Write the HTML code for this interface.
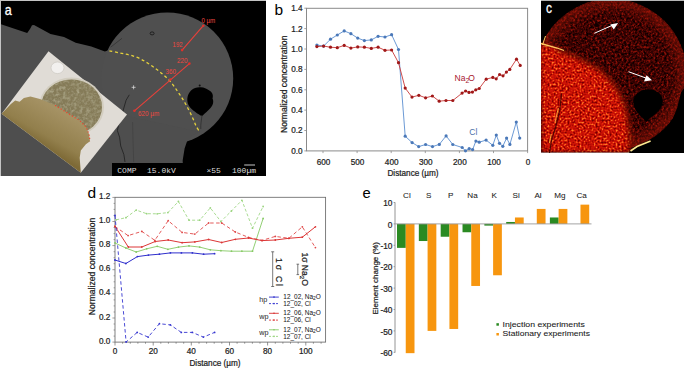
<!DOCTYPE html>
<html><head><meta charset="utf-8"><style>
html,body{margin:0;padding:0;background:#fff;width:685px;height:368px;overflow:hidden}
svg{display:block}
</style></head><body>
<svg width="685" height="368" viewBox="0 0 685 368">
<rect x="0" y="0" width="266" height="176" fill="#c4c4c4"/>
<rect x="1" y="1" width="265" height="175" fill="#000"/>
<path d="M1,24.3 L27.2,33 L30,29 L32,25.2 L34,24.9 L50.5,34 L64,36.9 L75.7,42.7 L91.3,46.6 L104.9,51.5 L112,49 L130,100 L160,150 L183,163 L183,176 L1,176 Z" fill="#4e4e4e"/>
<circle cx="167.2" cy="78.4" r="66" fill="#4f4f4f"/>
<path d="M100,110 L200,132 L192,135.6 L187.4,140.3 L184.6,148.5 L182.7,160.2 L182.7,176 L100,176 Z" fill="#4e4e4e"/>
<path d="M199.5,87.2 C204,86.8 206,88.5 208.5,90 C212,91.5 213.8,95 212.5,98.5 C213.8,101 213.5,105 210.5,108 C208,111 205,113 202.5,115.8 L200.5,115.5 C196,112.5 190,109 188,104 C186.5,99 187.5,94 191,90.5 C193.5,88.2 196.5,87.4 199.5,87.2 Z" fill="#000"/><circle cx="199.7" cy="85.6" r="1" fill="#111"/><path d="M202,115.5 C201.5,120 200.5,124 200.8,129" stroke="#222" stroke-width="0.6" fill="none"/>
<ellipse cx="152.1" cy="33.4" rx="2" ry="1.5" fill="none" stroke="#1a1a1a" stroke-width="0.9"/><path d="M110.6,47.2 L122,38.3" stroke="#2a2a2a" stroke-width="0.6"/>
<path d="M129.3,94.8 L126.1,100.2 L121.7,115.4 L118.5,125.2 L117.4,130.7 L119.6,137.2 L120.7,145.9 L123.9,154.6 L125,162" fill="none" stroke="#1e1e1e" stroke-width="0.8"/>
<path d="M132.6,122 L133,140 L133.7,162.2" fill="none" stroke="#3a3a3a" stroke-width="0.5"/>
<defs><linearGradient id="tan" gradientUnits="userSpaceOnUse" x1="50" y1="105" x2="30" y2="140"><stop offset="0" stop-color="#a59264"/><stop offset="0.7" stop-color="#927f4c"/><stop offset="1" stop-color="#7e6a36"/></linearGradient><filter id="gtex" x="0" y="0" width="1" height="1"><feTurbulence type="fractalNoise" baseFrequency="0.3" numOctaves="2" seed="4"/><feColorMatrix values="0 0 0 0 0.36  0 0 0 0 0.33  0 0 0 0 0.2  3.2 0 0 0 -1.45"/></filter><filter id="gtex2" x="0" y="0" width="1" height="1"><feTurbulence type="fractalNoise" baseFrequency="0.35" numOctaves="2" seed="21"/><feColorMatrix values="0 0 0 0 0.82  0 0 0 0 0.8  0 0 0 0 0.68  3.2 0 0 0 -1.5"/></filter><clipPath id="gcl"><ellipse cx="71.5" cy="107" rx="30.5" ry="27.5"/></clipPath></defs>
<polygon points="48.5,51.2 127,114.5 80.8,172.8 1.6,113.8" fill="#e0dcd6"/>
<ellipse cx="71.5" cy="107" rx="32.5" ry="29.5" fill="#d2cdbf"/>
<ellipse cx="71.5" cy="107" rx="30.5" ry="27.5" fill="#857b58"/>
<g clip-path="url(#gcl)"><rect x="40" y="78" width="66" height="62" filter="url(#gtex)" opacity="0.9"/><rect x="40" y="78" width="66" height="62" filter="url(#gtex2)" opacity="0.18"/></g>
<ellipse cx="57.5" cy="67.8" rx="6.5" ry="5.8" fill="#f2f0ee" stroke="#c8c4be" stroke-width="0.6"/>
<path d="M1.6,113.8 L10.9,104 L15.2,100.4 L19.6,101.8 L23.9,98 L30.4,96.4 L40,99.1 L55,105.2 L63.2,110.3 L71.5,115.5 L79.7,120.6 L85.9,126.8 L89,134 L90,141.2 L85.9,144.3 L80.8,150.5 L79.7,157.7 L80.8,172.8 Z" fill="url(#tan)"/>
<path d="M55,105.2 L63.2,110.3 L71.5,115.5 L79.7,120.6 L85.9,126.8 L89,134 L90,141.2" fill="none" stroke="#e84a30" stroke-width="1.2" stroke-dasharray="1.3,2"/>
<path d="M109.4,50.9 C110.7,51.1 114.6,51.9 117,52.4 C119.4,52.9 121.3,53.3 123.7,53.8 C126.1,54.3 128.5,54.6 131.2,55.4 C133.9,56.2 137.0,57.2 139.8,58.6 C142.7,60.0 145.5,61.7 148.3,63.5 C151.2,65.3 154.2,67.6 156.9,69.6 C159.6,71.6 161.9,73.5 164.3,75.7 C166.8,77.9 169.4,80.3 171.6,83 C173.8,85.7 175.9,88.9 177.7,91.6 C179.5,94.2 181.0,96.2 182.6,98.9 C184.2,101.6 185.9,104.4 187.5,107.5 C189.1,110.6 191.0,114.2 192.4,117.3 C193.8,120.3 194.8,123.3 196,125.8 C197.2,128.2 199.1,131.0 199.7,132" fill="none" stroke="#e6d23c" stroke-width="1.3" stroke-dasharray="3,2.6"/>
<line x1="203.3" y1="25.7" x2="182.1" y2="50.1" stroke="#e8403a" stroke-width="1.1"/>
<line x1="189.4" y1="63.6" x2="134.4" y2="110.8" stroke="#e8403a" stroke-width="1.1"/>
<circle cx="203.3" cy="25.7" r="1.3" fill="#e0302a"/>
<circle cx="182.1" cy="50.1" r="1.3" fill="#e0302a"/>
<circle cx="189.4" cy="63.6" r="1.3" fill="#e0302a"/>
<circle cx="170.3" cy="79.5" r="1.3" fill="#e0302a"/>
<circle cx="134.4" cy="110.8" r="1.3" fill="#e0302a"/>
<text x="201.4" y="22.6" textLength="13.9" lengthAdjust="spacingAndGlyphs" style="font-family:'Liberation Sans', sans-serif;fill:#f04840;font-size:7.4px">0 µm</text>
<text x="172.6" y="46.6" textLength="9.9" lengthAdjust="spacingAndGlyphs" style="font-family:'Liberation Sans', sans-serif;fill:#f04840;font-size:7.4px">192</text>
<text x="177" y="62.6" textLength="10.5" lengthAdjust="spacingAndGlyphs" style="font-family:'Liberation Sans', sans-serif;fill:#f04840;font-size:7.4px">220</text>
<text x="165.5" y="74" textLength="10.5" lengthAdjust="spacingAndGlyphs" style="font-family:'Liberation Sans', sans-serif;fill:#f04840;font-size:7.4px">360</text>
<text x="138" y="116" textLength="21.2" lengthAdjust="spacingAndGlyphs" style="font-family:'Liberation Sans', sans-serif;fill:#f04840;font-size:7.4px">620 µm</text>
<path d="M131.6,87.3 h4 M133.6,85.3 v4" stroke="#e8e8e8" stroke-width="0.7"/>
<rect x="112" y="163" width="154" height="13" fill="#000"/>
<text x="117.3" y="173" style="font-family:'Liberation Mono',monospace;fill:#ddd;font-size:8px">COMP</text>
<text x="147" y="173" style="font-family:'Liberation Mono',monospace;fill:#ddd;font-size:8px">15.0kV</text>
<text x="206.5" y="173" style="font-family:'Liberation Mono',monospace;fill:#ddd;font-size:8px">×55</text>
<text x="232" y="173" style="font-family:'Liberation Mono',monospace;fill:#ddd;font-size:8px">100µm</text>
<line x1="244.2" y1="165" x2="255" y2="165" stroke="#ddd" stroke-width="0.9"/>
<text transform="translate(4.8,14.6) scale(0.88,1)" style="font-family:'Liberation Sans', sans-serif;fill:#fff;stroke:#fff;stroke-width:0.3px;font-size:14.2px">a</text>
<rect x="306.5" y="8.3" width="221.10000000000002" height="142.6" fill="none" stroke="#8a8a8a" stroke-width="1"/>
<line x1="304.3" y1="150.9" x2="306.5" y2="150.9" stroke="#8a8a8a" stroke-width="0.8"/>
<text x="302.6" y="153.8" text-anchor="end" style="font-family:'Liberation Sans', sans-serif;fill:#222;stroke:#222;stroke-width:0.22px;font-size:8.2px">0.0</text>
<line x1="304.3" y1="130.5" x2="306.5" y2="130.5" stroke="#8a8a8a" stroke-width="0.8"/>
<text x="302.6" y="133.4" text-anchor="end" style="font-family:'Liberation Sans', sans-serif;fill:#222;stroke:#222;stroke-width:0.22px;font-size:8.2px">0.2</text>
<line x1="304.3" y1="110.1" x2="306.5" y2="110.1" stroke="#8a8a8a" stroke-width="0.8"/>
<text x="302.6" y="113.0" text-anchor="end" style="font-family:'Liberation Sans', sans-serif;fill:#222;stroke:#222;stroke-width:0.22px;font-size:8.2px">0.4</text>
<line x1="304.3" y1="89.8" x2="306.5" y2="89.8" stroke="#8a8a8a" stroke-width="0.8"/>
<text x="302.6" y="92.7" text-anchor="end" style="font-family:'Liberation Sans', sans-serif;fill:#222;stroke:#222;stroke-width:0.22px;font-size:8.2px">0.6</text>
<line x1="304.3" y1="69.4" x2="306.5" y2="69.4" stroke="#8a8a8a" stroke-width="0.8"/>
<text x="302.6" y="72.3" text-anchor="end" style="font-family:'Liberation Sans', sans-serif;fill:#222;stroke:#222;stroke-width:0.22px;font-size:8.2px">0.8</text>
<line x1="304.3" y1="49.0" x2="306.5" y2="49.0" stroke="#8a8a8a" stroke-width="0.8"/>
<text x="302.6" y="51.9" text-anchor="end" style="font-family:'Liberation Sans', sans-serif;fill:#222;stroke:#222;stroke-width:0.22px;font-size:8.2px">1.0</text>
<line x1="304.3" y1="28.6" x2="306.5" y2="28.6" stroke="#8a8a8a" stroke-width="0.8"/>
<text x="302.6" y="31.5" text-anchor="end" style="font-family:'Liberation Sans', sans-serif;fill:#222;stroke:#222;stroke-width:0.22px;font-size:8.2px">1.2</text>
<line x1="304.3" y1="8.2" x2="306.5" y2="8.2" stroke="#8a8a8a" stroke-width="0.8"/>
<text x="302.6" y="11.1" text-anchor="end" style="font-family:'Liberation Sans', sans-serif;fill:#222;stroke:#222;stroke-width:0.22px;font-size:8.2px">1.4</text>
<line x1="527.6" y1="150.9" x2="527.6" y2="153.1" stroke="#8a8a8a" stroke-width="0.8"/>
<text x="528.1" y="164.8" text-anchor="middle" style="font-family:'Liberation Sans', sans-serif;fill:#222;stroke:#222;stroke-width:0.22px;font-size:8.2px">0</text>
<line x1="493.5" y1="150.9" x2="493.5" y2="153.1" stroke="#8a8a8a" stroke-width="0.8"/>
<text x="494.0" y="164.8" text-anchor="middle" style="font-family:'Liberation Sans', sans-serif;fill:#222;stroke:#222;stroke-width:0.22px;font-size:8.2px">100</text>
<line x1="459.4" y1="150.9" x2="459.4" y2="153.1" stroke="#8a8a8a" stroke-width="0.8"/>
<text x="459.9" y="164.8" text-anchor="middle" style="font-family:'Liberation Sans', sans-serif;fill:#222;stroke:#222;stroke-width:0.22px;font-size:8.2px">200</text>
<line x1="425.3" y1="150.9" x2="425.3" y2="153.1" stroke="#8a8a8a" stroke-width="0.8"/>
<text x="425.8" y="164.8" text-anchor="middle" style="font-family:'Liberation Sans', sans-serif;fill:#222;stroke:#222;stroke-width:0.22px;font-size:8.2px">300</text>
<line x1="391.2" y1="150.9" x2="391.2" y2="153.1" stroke="#8a8a8a" stroke-width="0.8"/>
<text x="391.7" y="164.8" text-anchor="middle" style="font-family:'Liberation Sans', sans-serif;fill:#222;stroke:#222;stroke-width:0.22px;font-size:8.2px">400</text>
<line x1="357.1" y1="150.9" x2="357.1" y2="153.1" stroke="#8a8a8a" stroke-width="0.8"/>
<text x="357.6" y="164.8" text-anchor="middle" style="font-family:'Liberation Sans', sans-serif;fill:#222;stroke:#222;stroke-width:0.22px;font-size:8.2px">500</text>
<line x1="323.0" y1="150.9" x2="323.0" y2="153.1" stroke="#8a8a8a" stroke-width="0.8"/>
<text x="323.5" y="164.8" text-anchor="middle" style="font-family:'Liberation Sans', sans-serif;fill:#222;stroke:#222;stroke-width:0.22px;font-size:8.2px">600</text>
<text x="413" y="175.8" text-anchor="middle" style="font-family:'Liberation Sans', sans-serif;fill:#222;stroke:#222;stroke-width:0.22px;font-size:8.2px">Distance (µm)</text>
<text transform="translate(287.4,84.3) rotate(-90)" text-anchor="middle" style="font-family:'Liberation Sans', sans-serif;fill:#222;stroke:#222;stroke-width:0.22px;font-size:8.2px;font-size:8.6px">Normalized concentration</text>
<polyline points="316.9,45.0 323.6,46.1 330.5,39.2 337.3,35.0 344.2,30.9 350.9,33.7 357.7,38.1 364.4,40.6 371.3,39.9 378.1,36.3 385.0,37.0 391.6,34.7 398.5,49.5 405.2,136.2 412.1,142.6 418.7,146.6 425.6,144.5 432.5,146.6 439.3,144.4 446.1,135.9 452.8,144.5 462.2,147.5 465.5,150.8 469.2,148.6 472.6,149.6 475.9,141.1 479.2,142.2 486.1,140.1 492.8,145.3 496.3,135.1 499.5,143.3 502.8,146.3 506.6,138.1 509.9,144.4 516.3,122.1 519.7,138.1" fill="none" stroke="#5b8fd0" stroke-width="0.9"/>
<polyline points="316.9,46.6 323.6,46.1 330.5,47.2 337.3,47.7 344.2,45.4 350.9,48.1 357.7,46.9 364.4,47.2 371.3,48.4 378.1,47.2 385.0,50.3 391.6,50.0 398.5,62.7 405.2,88.1 412.0,97.1 418.8,95.3 425.6,97.8 432.4,96.0 439.2,101.2 446.0,100.5 452.8,100.5 462.1,93.1 465.6,91.0 469.0,92.4 472.4,92.1 475.8,89.8 479.2,88.5 486.2,79.2 492.8,77.4 496.2,78.8 499.6,74.5 503.0,75.8 506.4,72.1 509.8,69.4 516.5,59.2 520.2,65.4" fill="none" stroke="#c83838" stroke-width="0.9"/>
<circle cx="316.9" cy="45.0" r="1.6" fill="#4a78b8"/>
<circle cx="323.6" cy="46.1" r="1.6" fill="#4a78b8"/>
<circle cx="330.5" cy="39.2" r="1.6" fill="#4a78b8"/>
<circle cx="337.3" cy="35.0" r="1.6" fill="#4a78b8"/>
<circle cx="344.2" cy="30.9" r="1.6" fill="#4a78b8"/>
<circle cx="350.9" cy="33.7" r="1.6" fill="#4a78b8"/>
<circle cx="357.7" cy="38.1" r="1.6" fill="#4a78b8"/>
<circle cx="364.4" cy="40.6" r="1.6" fill="#4a78b8"/>
<circle cx="371.3" cy="39.9" r="1.6" fill="#4a78b8"/>
<circle cx="378.1" cy="36.3" r="1.6" fill="#4a78b8"/>
<circle cx="385" cy="37.0" r="1.6" fill="#4a78b8"/>
<circle cx="391.6" cy="34.7" r="1.6" fill="#4a78b8"/>
<circle cx="398.5" cy="49.5" r="1.6" fill="#4a78b8"/>
<circle cx="405.2" cy="136.2" r="1.6" fill="#4a78b8"/>
<circle cx="412.1" cy="142.6" r="1.6" fill="#4a78b8"/>
<circle cx="418.7" cy="146.6" r="1.6" fill="#4a78b8"/>
<circle cx="425.6" cy="144.5" r="1.6" fill="#4a78b8"/>
<circle cx="432.5" cy="146.6" r="1.6" fill="#4a78b8"/>
<circle cx="439.3" cy="144.4" r="1.6" fill="#4a78b8"/>
<circle cx="446.1" cy="135.9" r="1.6" fill="#4a78b8"/>
<circle cx="452.8" cy="144.5" r="1.6" fill="#4a78b8"/>
<circle cx="462.2" cy="147.5" r="1.6" fill="#4a78b8"/>
<circle cx="465.5" cy="150.8" r="1.6" fill="#4a78b8"/>
<circle cx="469.2" cy="148.6" r="1.6" fill="#4a78b8"/>
<circle cx="472.6" cy="149.6" r="1.6" fill="#4a78b8"/>
<circle cx="475.9" cy="141.1" r="1.6" fill="#4a78b8"/>
<circle cx="479.2" cy="142.2" r="1.6" fill="#4a78b8"/>
<circle cx="486.1" cy="140.1" r="1.6" fill="#4a78b8"/>
<circle cx="492.8" cy="145.3" r="1.6" fill="#4a78b8"/>
<circle cx="496.3" cy="135.1" r="1.6" fill="#4a78b8"/>
<circle cx="499.5" cy="143.3" r="1.6" fill="#4a78b8"/>
<circle cx="502.8" cy="146.3" r="1.6" fill="#4a78b8"/>
<circle cx="506.6" cy="138.1" r="1.6" fill="#4a78b8"/>
<circle cx="509.9" cy="144.4" r="1.6" fill="#4a78b8"/>
<circle cx="516.3" cy="122.1" r="1.6" fill="#4a78b8"/>
<circle cx="519.7" cy="138.1" r="1.6" fill="#4a78b8"/>
<circle cx="316.9" cy="46.6" r="1.6" fill="#a01818"/>
<circle cx="323.6" cy="46.1" r="1.6" fill="#a01818"/>
<circle cx="330.5" cy="47.2" r="1.6" fill="#a01818"/>
<circle cx="337.3" cy="47.7" r="1.6" fill="#a01818"/>
<circle cx="344.2" cy="45.4" r="1.6" fill="#a01818"/>
<circle cx="350.9" cy="48.1" r="1.6" fill="#a01818"/>
<circle cx="357.7" cy="46.9" r="1.6" fill="#a01818"/>
<circle cx="364.4" cy="47.2" r="1.6" fill="#a01818"/>
<circle cx="371.3" cy="48.4" r="1.6" fill="#a01818"/>
<circle cx="378.1" cy="47.2" r="1.6" fill="#a01818"/>
<circle cx="385" cy="50.3" r="1.6" fill="#a01818"/>
<circle cx="391.6" cy="50.0" r="1.6" fill="#a01818"/>
<circle cx="398.5" cy="62.7" r="1.6" fill="#a01818"/>
<circle cx="405.2" cy="88.1" r="1.6" fill="#a01818"/>
<circle cx="412" cy="97.1" r="1.6" fill="#a01818"/>
<circle cx="418.8" cy="95.3" r="1.6" fill="#a01818"/>
<circle cx="425.6" cy="97.8" r="1.6" fill="#a01818"/>
<circle cx="432.4" cy="96" r="1.6" fill="#a01818"/>
<circle cx="439.2" cy="101.2" r="1.6" fill="#a01818"/>
<circle cx="446" cy="100.5" r="1.6" fill="#a01818"/>
<circle cx="452.8" cy="100.5" r="1.6" fill="#a01818"/>
<circle cx="462.1" cy="93.1" r="1.6" fill="#a01818"/>
<circle cx="465.6" cy="91" r="1.6" fill="#a01818"/>
<circle cx="469" cy="92.4" r="1.6" fill="#a01818"/>
<circle cx="472.4" cy="92.1" r="1.6" fill="#a01818"/>
<circle cx="475.8" cy="89.8" r="1.6" fill="#a01818"/>
<circle cx="479.2" cy="88.5" r="1.6" fill="#a01818"/>
<circle cx="486.2" cy="79.2" r="1.6" fill="#a01818"/>
<circle cx="492.8" cy="77.4" r="1.6" fill="#a01818"/>
<circle cx="496.2" cy="78.8" r="1.6" fill="#a01818"/>
<circle cx="499.6" cy="74.5" r="1.6" fill="#a01818"/>
<circle cx="503" cy="75.8" r="1.6" fill="#a01818"/>
<circle cx="506.4" cy="72.1" r="1.6" fill="#a01818"/>
<circle cx="509.8" cy="69.4" r="1.6" fill="#a01818"/>
<circle cx="516.5" cy="59.2" r="1.6" fill="#a01818"/>
<circle cx="520.2" cy="65.4" r="1.6" fill="#a01818"/>
<text x="454.6" y="81.3" style="font-family:'Liberation Sans', sans-serif;fill:#a82030;font-size:8.5px">Na<tspan dy="2" font-size="7px">2</tspan><tspan dy="-2" dx="-1.2">O</tspan></text>
<text x="469.3" y="134.5" style="font-family:'Liberation Sans', sans-serif;fill:#4a6ea8;font-size:8.5px">Cl</text>
<text x="274.4" y="14.7" style="font-family:'Liberation Sans', sans-serif;fill:#000;font-size:15.5px">b</text>
<defs><clipPath id="cc"><rect x="541" y="1" width="143" height="151.5"/></clipPath><clipPath id="cd"><circle cx="611.1" cy="74.6" r="75.7"/></clipPath><filter id="bl2" x="-0.1" y="-0.1" width="1.2" height="1.2"><feGaussianBlur stdDeviation="2.3"/></filter><mask id="cb" maskUnits="userSpaceOnUse" x="530" y="0" width="160" height="160"><path d="M541,44 L557,47.8 L574.7,54.7 L589.3,62 L601.6,69.3 L611.3,79.1 L618.7,88.9 L624.8,101.1 L628.5,113.3 L630.5,127 L632,140 L631,149 L629,153 L541,153 Z" fill="#fff" filter="url(#bl2)"/></mask><filter id="tA" x="0" y="0" width="1" height="1" color-interpolation-filters="sRGB"><feTurbulence type="fractalNoise" baseFrequency="0.5" numOctaves="3" seed="5"/><feColorMatrix type="matrix" values="1 0 0 0 0  1 0 0 0 0  1 0 0 0 0  0 0 0 0 1"/><feComponentTransfer><feFuncR type="linear" slope="2.0" intercept="-0.5"/><feFuncG type="linear" slope="2.0" intercept="-0.5"/><feFuncB type="linear" slope="2.0" intercept="-0.5"/></feComponentTransfer><feComponentTransfer><feFuncR type="table" tableValues="0.45 0.63 0.75 0.84 0.93 1"/><feFuncG type="table" tableValues="0.0 0.02 0.05 0.1 0.25 0.5"/><feFuncB type="table" tableValues="0 0 0.02 0.03 0.06 0.15"/></feComponentTransfer></filter><filter id="tB" x="0" y="0" width="1" height="1" color-interpolation-filters="sRGB"><feTurbulence type="fractalNoise" baseFrequency="0.45" numOctaves="3" seed="9"/><feColorMatrix type="matrix" values="1 0 0 0 0  1 0 0 0 0  1 0 0 0 0  0 0 0 0 1"/><feComponentTransfer><feFuncR type="linear" slope="2.0" intercept="-0.5"/><feFuncG type="linear" slope="2.0" intercept="-0.5"/><feFuncB type="linear" slope="2.0" intercept="-0.5"/></feComponentTransfer><feComponentTransfer><feFuncR type="table" tableValues="0.03 0.12 0.2 0.28 0.4 0.56"/><feFuncG type="table" tableValues="0 0.0 0.01 0.02 0.04 0.07"/><feFuncB type="table" tableValues="0 0 0.01 0.01 0.02 0.03"/></feComponentTransfer></filter><radialGradient id="rim" gradientUnits="userSpaceOnUse" cx="611.1" cy="74.6" r="75.7"><stop offset="0.78" stop-color="#a01808" stop-opacity="0"/><stop offset="0.97" stop-color="#a01808" stop-opacity="0.45"/><stop offset="1" stop-color="#a01808" stop-opacity="0.3"/></radialGradient></defs>
<rect x="541" y="0" width="143" height="1" fill="#b4b4b4"/>
<rect x="541" y="1" width="143" height="151.5" fill="#000"/>
<g clip-path="url(#cc)">
<g clip-path="url(#cd)">
<rect x="541" y="1" width="143" height="152" filter="url(#tB)"/>
<rect x="541" y="1" width="143" height="152" fill="url(#rim)"/>
</g>
<g mask="url(#cb)"><rect x="541" y="1" width="143" height="152" filter="url(#tA)"/><path d="M557,47.8 L574.7,54.7 L589.3,62 L601.6,69.3 L611.3,79.1 L618.7,88.9 L624.8,101.1 L628.5,113.3 L630.5,127 L632,140 L631,149" fill="none" stroke="#5a0804" stroke-width="9" opacity="0.45" filter="url(#bl2)"/></g>
</g>
<path d="M648,89.2 C656,89.2 662.8,94 662.8,101 C662.8,108 656,114 650,118 L646.5,121.8 C643,118 633.2,111 633.2,102 C633.2,95 640,89.2 648,89.2 Z" fill="#000"/>
<circle cx="596.4" cy="25.1" r="2" fill="#100000"/>
<path d="M684,88 L681.1,92.2 L677,108.5 L671,122.8 L660.7,135 L648.5,142.1 L636.3,146.2 L630.2,151.3 L629,153 L684,153 Z" fill="#000"/>
<path d="M541,43.5 L557,48 L564,50.5" stroke="#ffc860" stroke-width="1.3" fill="none"/>
<path d="M542.5,45 L545.5,36" stroke="#ffc860" stroke-width="1" fill="none"/>
<path d="M630.5,151 L637,146.5 L650.6,141.1" stroke="#ffe890" stroke-width="1.6" fill="none"/>
<path d="M561.5,93.4 L559.8,110.5 L556.4,124.2 L551.3,141.3 L549.5,153" stroke="#3a0200" stroke-width="1.2" fill="none" opacity="0.85"/>
<path d="M558.3,108 L555,122.5 M551.2,134 L549.4,143" stroke="#ffc040" stroke-width="1" fill="none" opacity="0.85"/>
<line x1="594.3" y1="33.3" x2="613" y2="25" stroke="#fff" stroke-width="1"/>
<polygon points="618.1,23.1 610.3,24.6 613.8,29.6" fill="#fff"/>
<line x1="628.5" y1="71.7" x2="647.5" y2="78.6" stroke="#fff" stroke-width="1"/>
<polygon points="652,80.3 644,81.5 646.5,75.3" fill="#fff"/>
<text transform="translate(545.9,13.1) scale(0.84,1)" style="font-family:'Liberation Sans', sans-serif;fill:#fff;stroke:#fff;stroke-width:0.3px;font-size:14.2px">c</text>
<rect x="115" y="197.3" width="210.60000000000002" height="144.8" fill="none" stroke="#6a6a6a" stroke-width="0.85"/>
<line x1="112.4" y1="342.1" x2="115" y2="342.1" stroke="#777" stroke-width="0.7"/>
<text x="110.3" y="343.6" text-anchor="end" style="font-family:'Liberation Sans', sans-serif;fill:#222;stroke:#222;stroke-width:0.22px;font-size:8.2px">0.0</text>
<line x1="113.6" y1="336.1" x2="115" y2="336.1" stroke="#777" stroke-width="0.7"/>
<line x1="113.6" y1="330.0" x2="115" y2="330.0" stroke="#777" stroke-width="0.7"/>
<line x1="113.6" y1="324.0" x2="115" y2="324.0" stroke="#777" stroke-width="0.7"/>
<line x1="112.4" y1="318.0" x2="115" y2="318.0" stroke="#777" stroke-width="0.7"/>
<text x="110.3" y="319.5" text-anchor="end" style="font-family:'Liberation Sans', sans-serif;fill:#222;stroke:#222;stroke-width:0.22px;font-size:8.2px">0.2</text>
<line x1="113.6" y1="312.0" x2="115" y2="312.0" stroke="#777" stroke-width="0.7"/>
<line x1="113.6" y1="305.9" x2="115" y2="305.9" stroke="#777" stroke-width="0.7"/>
<line x1="113.6" y1="299.9" x2="115" y2="299.9" stroke="#777" stroke-width="0.7"/>
<line x1="112.4" y1="293.9" x2="115" y2="293.9" stroke="#777" stroke-width="0.7"/>
<text x="110.3" y="295.4" text-anchor="end" style="font-family:'Liberation Sans', sans-serif;fill:#222;stroke:#222;stroke-width:0.22px;font-size:8.2px">0.4</text>
<line x1="113.6" y1="287.8" x2="115" y2="287.8" stroke="#777" stroke-width="0.7"/>
<line x1="113.6" y1="281.8" x2="115" y2="281.8" stroke="#777" stroke-width="0.7"/>
<line x1="113.6" y1="275.8" x2="115" y2="275.8" stroke="#777" stroke-width="0.7"/>
<line x1="112.4" y1="269.7" x2="115" y2="269.7" stroke="#777" stroke-width="0.7"/>
<text x="110.3" y="271.2" text-anchor="end" style="font-family:'Liberation Sans', sans-serif;fill:#222;stroke:#222;stroke-width:0.22px;font-size:8.2px">0.6</text>
<line x1="113.6" y1="263.7" x2="115" y2="263.7" stroke="#777" stroke-width="0.7"/>
<line x1="113.6" y1="257.7" x2="115" y2="257.7" stroke="#777" stroke-width="0.7"/>
<line x1="113.6" y1="251.7" x2="115" y2="251.7" stroke="#777" stroke-width="0.7"/>
<line x1="112.4" y1="245.6" x2="115" y2="245.6" stroke="#777" stroke-width="0.7"/>
<text x="110.3" y="247.1" text-anchor="end" style="font-family:'Liberation Sans', sans-serif;fill:#222;stroke:#222;stroke-width:0.22px;font-size:8.2px">0.8</text>
<line x1="113.6" y1="239.6" x2="115" y2="239.6" stroke="#777" stroke-width="0.7"/>
<line x1="113.6" y1="233.6" x2="115" y2="233.6" stroke="#777" stroke-width="0.7"/>
<line x1="113.6" y1="227.5" x2="115" y2="227.5" stroke="#777" stroke-width="0.7"/>
<line x1="112.4" y1="221.5" x2="115" y2="221.5" stroke="#777" stroke-width="0.7"/>
<text x="110.3" y="223.0" text-anchor="end" style="font-family:'Liberation Sans', sans-serif;fill:#222;stroke:#222;stroke-width:0.22px;font-size:8.2px">1.0</text>
<line x1="113.6" y1="215.5" x2="115" y2="215.5" stroke="#777" stroke-width="0.7"/>
<line x1="113.6" y1="209.4" x2="115" y2="209.4" stroke="#777" stroke-width="0.7"/>
<line x1="113.6" y1="203.4" x2="115" y2="203.4" stroke="#777" stroke-width="0.7"/>
<line x1="112.4" y1="197.4" x2="115" y2="197.4" stroke="#777" stroke-width="0.7"/>
<text x="110.3" y="198.9" text-anchor="end" style="font-family:'Liberation Sans', sans-serif;fill:#222;stroke:#222;stroke-width:0.22px;font-size:8.2px">1.2</text>
<line x1="115.0" y1="342.1" x2="115.0" y2="345.5" stroke="#666" stroke-width="0.7"/>
<text x="115.0" y="354.3" text-anchor="middle" style="font-family:'Liberation Sans', sans-serif;fill:#222;stroke:#222;stroke-width:0.22px;font-size:8.2px">0</text>
<line x1="122.6" y1="342.1" x2="122.6" y2="343.70000000000005" stroke="#666" stroke-width="0.7"/>
<line x1="130.3" y1="342.1" x2="130.3" y2="343.70000000000005" stroke="#666" stroke-width="0.7"/>
<line x1="137.9" y1="342.1" x2="137.9" y2="343.70000000000005" stroke="#666" stroke-width="0.7"/>
<line x1="145.5" y1="342.1" x2="145.5" y2="343.70000000000005" stroke="#666" stroke-width="0.7"/>
<line x1="153.2" y1="342.1" x2="153.2" y2="345.5" stroke="#666" stroke-width="0.7"/>
<text x="153.2" y="354.3" text-anchor="middle" style="font-family:'Liberation Sans', sans-serif;fill:#222;stroke:#222;stroke-width:0.22px;font-size:8.2px">20</text>
<line x1="160.8" y1="342.1" x2="160.8" y2="343.70000000000005" stroke="#666" stroke-width="0.7"/>
<line x1="168.4" y1="342.1" x2="168.4" y2="343.70000000000005" stroke="#666" stroke-width="0.7"/>
<line x1="176.1" y1="342.1" x2="176.1" y2="343.70000000000005" stroke="#666" stroke-width="0.7"/>
<line x1="183.7" y1="342.1" x2="183.7" y2="343.70000000000005" stroke="#666" stroke-width="0.7"/>
<line x1="191.3" y1="342.1" x2="191.3" y2="345.5" stroke="#666" stroke-width="0.7"/>
<text x="191.3" y="354.3" text-anchor="middle" style="font-family:'Liberation Sans', sans-serif;fill:#222;stroke:#222;stroke-width:0.22px;font-size:8.2px">40</text>
<line x1="199.0" y1="342.1" x2="199.0" y2="343.70000000000005" stroke="#666" stroke-width="0.7"/>
<line x1="206.6" y1="342.1" x2="206.6" y2="343.70000000000005" stroke="#666" stroke-width="0.7"/>
<line x1="214.2" y1="342.1" x2="214.2" y2="343.70000000000005" stroke="#666" stroke-width="0.7"/>
<line x1="221.8" y1="342.1" x2="221.8" y2="343.70000000000005" stroke="#666" stroke-width="0.7"/>
<line x1="229.5" y1="342.1" x2="229.5" y2="345.5" stroke="#666" stroke-width="0.7"/>
<text x="229.5" y="354.3" text-anchor="middle" style="font-family:'Liberation Sans', sans-serif;fill:#222;stroke:#222;stroke-width:0.22px;font-size:8.2px">60</text>
<line x1="237.1" y1="342.1" x2="237.1" y2="343.70000000000005" stroke="#666" stroke-width="0.7"/>
<line x1="244.7" y1="342.1" x2="244.7" y2="343.70000000000005" stroke="#666" stroke-width="0.7"/>
<line x1="252.4" y1="342.1" x2="252.4" y2="343.70000000000005" stroke="#666" stroke-width="0.7"/>
<line x1="260.0" y1="342.1" x2="260.0" y2="343.70000000000005" stroke="#666" stroke-width="0.7"/>
<line x1="267.6" y1="342.1" x2="267.6" y2="345.5" stroke="#666" stroke-width="0.7"/>
<text x="267.6" y="354.3" text-anchor="middle" style="font-family:'Liberation Sans', sans-serif;fill:#222;stroke:#222;stroke-width:0.22px;font-size:8.2px">80</text>
<line x1="275.3" y1="342.1" x2="275.3" y2="343.70000000000005" stroke="#666" stroke-width="0.7"/>
<line x1="282.9" y1="342.1" x2="282.9" y2="343.70000000000005" stroke="#666" stroke-width="0.7"/>
<line x1="290.5" y1="342.1" x2="290.5" y2="343.70000000000005" stroke="#666" stroke-width="0.7"/>
<line x1="298.2" y1="342.1" x2="298.2" y2="343.70000000000005" stroke="#666" stroke-width="0.7"/>
<line x1="305.8" y1="342.1" x2="305.8" y2="345.5" stroke="#666" stroke-width="0.7"/>
<text x="305.8" y="354.3" text-anchor="middle" style="font-family:'Liberation Sans', sans-serif;fill:#222;stroke:#222;stroke-width:0.22px;font-size:8.2px">100</text>
<line x1="313.4" y1="342.1" x2="313.4" y2="343.70000000000005" stroke="#666" stroke-width="0.7"/>
<line x1="321.1" y1="342.1" x2="321.1" y2="343.70000000000005" stroke="#666" stroke-width="0.7"/>
<text x="215" y="365.8" text-anchor="middle" style="font-family:'Liberation Sans', sans-serif;fill:#222;stroke:#222;stroke-width:0.22px;font-size:8.2px">Distance (µm)</text>
<text transform="translate(95,266.5) rotate(-90)" text-anchor="middle" style="font-family:'Liberation Sans', sans-serif;fill:#222;stroke:#222;stroke-width:0.22px;font-size:8.2px;font-size:8.6px">Normalized concentration</text>
<polyline points="116.2,219.8 125.9,217.7 136.2,210.1 146.7,213.7 157.2,213.8 167.9,212.6 178.4,201.5 189.0,220.2 199.7,220.2 210.3,207.9 220.9,221.5 231.4,211.0 241.9,200.3 252.5,228.2 263.1,206.5" fill="none" stroke="#9ad47e" stroke-width="0.85" stroke-dasharray="3,2"/>
<circle cx="116.2" cy="219.8" r="0.9" fill="#9ad47e"/>
<circle cx="125.9" cy="217.7" r="0.9" fill="#9ad47e"/>
<circle cx="136.2" cy="210.1" r="0.9" fill="#9ad47e"/>
<circle cx="146.7" cy="213.7" r="0.9" fill="#9ad47e"/>
<circle cx="157.2" cy="213.8" r="0.9" fill="#9ad47e"/>
<circle cx="167.9" cy="212.6" r="0.9" fill="#9ad47e"/>
<circle cx="178.4" cy="201.5" r="0.9" fill="#9ad47e"/>
<circle cx="189" cy="220.2" r="0.9" fill="#9ad47e"/>
<circle cx="199.7" cy="220.2" r="0.9" fill="#9ad47e"/>
<circle cx="210.3" cy="207.9" r="0.9" fill="#9ad47e"/>
<circle cx="220.9" cy="221.5" r="0.9" fill="#9ad47e"/>
<circle cx="231.4" cy="211" r="0.9" fill="#9ad47e"/>
<circle cx="241.9" cy="200.3" r="0.9" fill="#9ad47e"/>
<circle cx="252.5" cy="228.2" r="0.9" fill="#9ad47e"/>
<circle cx="263.1" cy="206.5" r="0.9" fill="#9ad47e"/>
<polyline points="115.0,243.0 125.9,248.0 136.2,252.0 146.7,248.8 157.2,246.3 167.9,249.3 178.5,247.1 189.0,245.9 199.7,247.1 210.3,249.8 220.9,250.7 231.5,251.2 241.9,251.2 252.5,251.2 263.1,218.5" fill="none" stroke="#86c964" stroke-width="0.9"/>
<circle cx="115" cy="243" r="0.9" fill="#86c964"/>
<circle cx="125.9" cy="248" r="0.9" fill="#86c964"/>
<circle cx="136.2" cy="252" r="0.9" fill="#86c964"/>
<circle cx="146.7" cy="248.8" r="0.9" fill="#86c964"/>
<circle cx="157.2" cy="246.3" r="0.9" fill="#86c964"/>
<circle cx="167.9" cy="249.3" r="0.9" fill="#86c964"/>
<circle cx="178.5" cy="247.1" r="0.9" fill="#86c964"/>
<circle cx="189" cy="245.9" r="0.9" fill="#86c964"/>
<circle cx="199.7" cy="247.1" r="0.9" fill="#86c964"/>
<circle cx="210.3" cy="249.8" r="0.9" fill="#86c964"/>
<circle cx="220.9" cy="250.7" r="0.9" fill="#86c964"/>
<circle cx="231.5" cy="251.2" r="0.9" fill="#86c964"/>
<circle cx="241.9" cy="251.2" r="0.9" fill="#86c964"/>
<circle cx="252.5" cy="251.2" r="0.9" fill="#86c964"/>
<circle cx="263.1" cy="218.5" r="0.9" fill="#86c964"/>
<polyline points="115.0,226.5 128.1,235.6 141.8,231.4 154.8,240.3 168.2,220.7 182.1,232.4 194.8,234.1 208.6,223.0 221.7,223.0 235.3,232.0 248.5,237.4 262.0,240.4 275.3,236.4 288.9,238.3 302.3,226.8 315.4,247.6" fill="none" stroke="#e04848" stroke-width="0.9" stroke-dasharray="3.5,2.5"/>
<circle cx="115" cy="226.5" r="0.9" fill="#e04848"/>
<circle cx="128.1" cy="235.6" r="0.9" fill="#e04848"/>
<circle cx="141.8" cy="231.4" r="0.9" fill="#e04848"/>
<circle cx="154.8" cy="240.3" r="0.9" fill="#e04848"/>
<circle cx="168.2" cy="220.7" r="0.9" fill="#e04848"/>
<circle cx="182.1" cy="232.4" r="0.9" fill="#e04848"/>
<circle cx="194.8" cy="234.1" r="0.9" fill="#e04848"/>
<circle cx="208.6" cy="223" r="0.9" fill="#e04848"/>
<circle cx="221.7" cy="223" r="0.9" fill="#e04848"/>
<circle cx="235.3" cy="232" r="0.9" fill="#e04848"/>
<circle cx="248.5" cy="237.4" r="0.9" fill="#e04848"/>
<circle cx="262" cy="240.4" r="0.9" fill="#e04848"/>
<circle cx="275.3" cy="236.4" r="0.9" fill="#e04848"/>
<circle cx="288.9" cy="238.3" r="0.9" fill="#e04848"/>
<circle cx="302.3" cy="226.8" r="0.9" fill="#e04848"/>
<circle cx="315.4" cy="247.6" r="0.9" fill="#e04848"/>
<polyline points="115.0,226.3 128.3,247.0 141.8,247.0 155.2,241.5 168.2,240.0 182.1,242.7 194.8,241.9 208.6,239.5 221.7,242.5 235.3,239.3 248.5,238.0 262.0,240.6 275.3,240.0 288.9,238.3 302.3,237.2 315.4,226.8" fill="none" stroke="#dc3636" stroke-width="1.0"/>
<circle cx="115" cy="226.3" r="0.9" fill="#dc3636"/>
<circle cx="128.3" cy="247" r="0.9" fill="#dc3636"/>
<circle cx="141.8" cy="247" r="0.9" fill="#dc3636"/>
<circle cx="155.2" cy="241.5" r="0.9" fill="#dc3636"/>
<circle cx="168.2" cy="240" r="0.9" fill="#dc3636"/>
<circle cx="182.1" cy="242.7" r="0.9" fill="#dc3636"/>
<circle cx="194.8" cy="241.9" r="0.9" fill="#dc3636"/>
<circle cx="208.6" cy="239.5" r="0.9" fill="#dc3636"/>
<circle cx="221.7" cy="242.5" r="0.9" fill="#dc3636"/>
<circle cx="235.3" cy="239.3" r="0.9" fill="#dc3636"/>
<circle cx="248.5" cy="238" r="0.9" fill="#dc3636"/>
<circle cx="262" cy="240.6" r="0.9" fill="#dc3636"/>
<circle cx="275.3" cy="240" r="0.9" fill="#dc3636"/>
<circle cx="288.9" cy="238.3" r="0.9" fill="#dc3636"/>
<circle cx="302.3" cy="237.2" r="0.9" fill="#dc3636"/>
<circle cx="315.4" cy="226.8" r="0.9" fill="#dc3636"/>
<polyline points="115.0,215.5 126.1,342.0 137.2,332.4 148.2,337.1 159.4,323.7 170.4,324.9 181.3,332.4 192.3,332.4 203.4,337.1 214.6,332.4" fill="none" stroke="#3535d0" stroke-width="0.9" stroke-dasharray="3.5,2.5"/>
<circle cx="115" cy="215.5" r="0.9" fill="#3535d0"/>
<circle cx="126.1" cy="342" r="0.9" fill="#3535d0"/>
<circle cx="137.2" cy="332.4" r="0.9" fill="#3535d0"/>
<circle cx="148.2" cy="337.1" r="0.9" fill="#3535d0"/>
<circle cx="159.4" cy="323.7" r="0.9" fill="#3535d0"/>
<circle cx="170.4" cy="324.9" r="0.9" fill="#3535d0"/>
<circle cx="181.3" cy="332.4" r="0.9" fill="#3535d0"/>
<circle cx="192.3" cy="332.4" r="0.9" fill="#3535d0"/>
<circle cx="203.4" cy="337.1" r="0.9" fill="#3535d0"/>
<circle cx="214.6" cy="332.4" r="0.9" fill="#3535d0"/>
<polyline points="114.9,260.0 125.9,263.5 137.4,256.6 148.4,255.1 159.4,254.2 170.4,252.9 181.4,252.9 192.4,252.9 203.6,254.2 214.6,253.7" fill="none" stroke="#2f2fcc" stroke-width="1.0"/>
<circle cx="114.9" cy="260" r="0.9" fill="#2f2fcc"/>
<circle cx="125.9" cy="263.5" r="0.9" fill="#2f2fcc"/>
<circle cx="137.4" cy="256.6" r="0.9" fill="#2f2fcc"/>
<circle cx="148.4" cy="255.1" r="0.9" fill="#2f2fcc"/>
<circle cx="159.4" cy="254.2" r="0.9" fill="#2f2fcc"/>
<circle cx="170.4" cy="252.9" r="0.9" fill="#2f2fcc"/>
<circle cx="181.4" cy="252.9" r="0.9" fill="#2f2fcc"/>
<circle cx="192.4" cy="252.9" r="0.9" fill="#2f2fcc"/>
<circle cx="203.6" cy="254.2" r="0.9" fill="#2f2fcc"/>
<circle cx="214.6" cy="253.7" r="0.9" fill="#2f2fcc"/>
<path d="M272.7,251.8 V286.5 M271.2,251.8 H274.2 M271.2,286.5 H274.2" stroke="#555" stroke-width="0.8" fill="none"/>
<path d="M297.8,264.2 V274.6 M296.5,264.2 H299.1 M296.5,274.6 H299.1" stroke="#555" stroke-width="0.8" fill="none"/>
<text transform="translate(276.1,258) rotate(90)" textLength="28" lengthAdjust="spacing" style="font-family:'Liberation Sans', sans-serif;fill:#222;stroke:#222;stroke-width:0.22px;font-size:8.2px;font-size:8.6px">1σ Cl</text>
<text transform="translate(301.8,252.4) rotate(90)" style="font-family:'Liberation Sans', sans-serif;fill:#222;stroke:#222;stroke-width:0.22px;font-size:8.2px;font-size:8.6px">1σ<tspan dx="2.2">Na</tspan><tspan dy="1.5" font-size="6.2px">2</tspan><tspan dy="-1.5">O</tspan></text>
<line x1="269" y1="297.1" x2="278.8" y2="297.1" stroke="#2f2fcc" stroke-width="0.9"/>
<circle cx="274" cy="297.1" r="0.8" fill="#2f2fcc"/>
<text x="283.3" y="299.20000000000005" textLength="37.6" lengthAdjust="spacingAndGlyphs" style="font-family:'Liberation Sans', sans-serif;fill:#222;stroke:#222;stroke-width:0.05px;font-size:6.8px">12_02, Na<tspan font-size="5.2px" dy="0.6">2</tspan><tspan dy="-0.6">O</tspan></text>
<line x1="269" y1="303.6" x2="278.8" y2="303.6" stroke="#3535d0" stroke-width="0.9" stroke-dasharray="2,1.5"/>
<circle cx="274" cy="303.6" r="0.8" fill="#3535d0"/>
<text x="283.3" y="305.70000000000005" textLength="27.4" lengthAdjust="spacingAndGlyphs" style="font-family:'Liberation Sans', sans-serif;fill:#222;stroke:#222;stroke-width:0.05px;font-size:6.8px">12_02, Cl</text>
<line x1="269" y1="313.3" x2="278.8" y2="313.3" stroke="#d83030" stroke-width="0.9"/>
<circle cx="274" cy="313.3" r="0.8" fill="#d83030"/>
<text x="283.3" y="315.40000000000003" textLength="37.6" lengthAdjust="spacingAndGlyphs" style="font-family:'Liberation Sans', sans-serif;fill:#222;stroke:#222;stroke-width:0.05px;font-size:6.8px">12_06, Na<tspan font-size="5.2px" dy="0.6">2</tspan><tspan dy="-0.6">O</tspan></text>
<line x1="269" y1="320.1" x2="278.8" y2="320.1" stroke="#dc3a3a" stroke-width="0.9" stroke-dasharray="2,1.5"/>
<circle cx="274" cy="320.1" r="0.8" fill="#dc3a3a"/>
<text x="283.3" y="322.20000000000005" textLength="27.4" lengthAdjust="spacingAndGlyphs" style="font-family:'Liberation Sans', sans-serif;fill:#222;stroke:#222;stroke-width:0.05px;font-size:6.8px">12_06, Cl</text>
<line x1="269" y1="329.8" x2="278.8" y2="329.8" stroke="#86c964" stroke-width="0.9"/>
<circle cx="274" cy="329.8" r="0.8" fill="#86c964"/>
<text x="283.3" y="331.90000000000003" textLength="37.6" lengthAdjust="spacingAndGlyphs" style="font-family:'Liberation Sans', sans-serif;fill:#222;stroke:#222;stroke-width:0.05px;font-size:6.8px">12_07, Na<tspan font-size="5.2px" dy="0.6">2</tspan><tspan dy="-0.6">O</tspan></text>
<line x1="269" y1="336.4" x2="278.8" y2="336.4" stroke="#9ad47e" stroke-width="0.9" stroke-dasharray="2,1.5"/>
<circle cx="274" cy="336.4" r="0.8" fill="#9ad47e"/>
<text x="283.3" y="338.5" textLength="27.4" lengthAdjust="spacingAndGlyphs" style="font-family:'Liberation Sans', sans-serif;fill:#222;stroke:#222;stroke-width:0.05px;font-size:6.8px">12_07, Cl</text>
<text x="259.3" y="302.3" style="font-family:'Liberation Sans', sans-serif;fill:#222;stroke:#222;stroke-width:0.05px;font-size:6.8px;fill:#333;font-size:7.2px">hp</text>
<text x="259.3" y="319.3" style="font-family:'Liberation Sans', sans-serif;fill:#222;stroke:#222;stroke-width:0.05px;font-size:6.8px;fill:#333;font-size:7.2px">wp</text>
<text x="259.3" y="335.3" style="font-family:'Liberation Sans', sans-serif;fill:#222;stroke:#222;stroke-width:0.05px;font-size:6.8px;fill:#333;font-size:7.2px">wp</text>
<text x="87.6" y="198" style="font-family:'Liberation Sans', sans-serif;fill:#000;font-size:15.5px">d</text>
<line x1="395" y1="202.3" x2="395" y2="352.7" stroke="#888" stroke-width="0.9"/>
<line x1="393.6" y1="202.5" x2="395" y2="202.5" stroke="#888" stroke-width="0.8"/>
<text x="392.4" y="206.1" text-anchor="end" style="font-family:'Liberation Sans', sans-serif;fill:#222;stroke:#222;stroke-width:0.22px;font-size:8.3px">10</text>
<line x1="393.6" y1="223.9" x2="395" y2="223.9" stroke="#888" stroke-width="0.8"/>
<text x="392.4" y="227.5" text-anchor="end" style="font-family:'Liberation Sans', sans-serif;fill:#222;stroke:#222;stroke-width:0.22px;font-size:8.3px">0</text>
<line x1="393.6" y1="245.3" x2="395" y2="245.3" stroke="#888" stroke-width="0.8"/>
<text x="392.4" y="248.9" text-anchor="end" style="font-family:'Liberation Sans', sans-serif;fill:#222;stroke:#222;stroke-width:0.22px;font-size:8.3px">-10</text>
<line x1="393.6" y1="266.7" x2="395" y2="266.7" stroke="#888" stroke-width="0.8"/>
<text x="392.4" y="270.3" text-anchor="end" style="font-family:'Liberation Sans', sans-serif;fill:#222;stroke:#222;stroke-width:0.22px;font-size:8.3px">-20</text>
<line x1="393.6" y1="288.1" x2="395" y2="288.1" stroke="#888" stroke-width="0.8"/>
<text x="392.4" y="291.7" text-anchor="end" style="font-family:'Liberation Sans', sans-serif;fill:#222;stroke:#222;stroke-width:0.22px;font-size:8.3px">-30</text>
<line x1="393.6" y1="309.5" x2="395" y2="309.5" stroke="#888" stroke-width="0.8"/>
<text x="392.4" y="313.1" text-anchor="end" style="font-family:'Liberation Sans', sans-serif;fill:#222;stroke:#222;stroke-width:0.22px;font-size:8.3px">-40</text>
<line x1="393.6" y1="330.9" x2="395" y2="330.9" stroke="#888" stroke-width="0.8"/>
<text x="392.4" y="334.5" text-anchor="end" style="font-family:'Liberation Sans', sans-serif;fill:#222;stroke:#222;stroke-width:0.22px;font-size:8.3px">-50</text>
<line x1="393.6" y1="352.3" x2="395" y2="352.3" stroke="#888" stroke-width="0.8"/>
<text x="392.4" y="355.9" text-anchor="end" style="font-family:'Liberation Sans', sans-serif;fill:#222;stroke:#222;stroke-width:0.22px;font-size:8.3px">-60</text>
<rect x="397.00" y="223.90" width="8.75" height="23.97" fill="#2a8a22"/>
<rect x="405.75" y="223.90" width="8.75" height="129.26" fill="#f7960f"/>
<text x="406.9" y="198.1" text-anchor="middle" style="font-family:'Liberation Sans', sans-serif;fill:#1a1a1a;stroke:#1a1a1a;stroke-width:0.06px;font-size:8.1px">Cl</text>
<rect x="418.84" y="223.90" width="8.75" height="17.12" fill="#2a8a22"/>
<rect x="427.59" y="223.90" width="8.75" height="107.00" fill="#f7960f"/>
<text x="428.8" y="198.1" text-anchor="middle" style="font-family:'Liberation Sans', sans-serif;fill:#1a1a1a;stroke:#1a1a1a;stroke-width:0.06px;font-size:8.1px">S</text>
<rect x="440.68" y="223.90" width="8.75" height="12.84" fill="#2a8a22"/>
<rect x="449.43" y="223.90" width="8.75" height="105.07" fill="#f7960f"/>
<text x="450.6" y="198.1" text-anchor="middle" style="font-family:'Liberation Sans', sans-serif;fill:#1a1a1a;stroke:#1a1a1a;stroke-width:0.06px;font-size:8.1px">P</text>
<rect x="462.52" y="223.90" width="8.75" height="8.35" fill="#2a8a22"/>
<rect x="471.27" y="223.90" width="8.75" height="62.06" fill="#f7960f"/>
<text x="472.5" y="198.1" text-anchor="middle" style="font-family:'Liberation Sans', sans-serif;fill:#1a1a1a;stroke:#1a1a1a;stroke-width:0.06px;font-size:8.1px">Na</text>
<rect x="484.36" y="223.90" width="8.75" height="1.71" fill="#2a8a22"/>
<rect x="493.11" y="223.90" width="8.75" height="51.36" fill="#f7960f"/>
<text x="494.3" y="198.1" text-anchor="middle" style="font-family:'Liberation Sans', sans-serif;fill:#1a1a1a;stroke:#1a1a1a;stroke-width:0.06px;font-size:8.1px">K</text>
<rect x="506.20" y="221.97" width="8.75" height="1.93" fill="#2a8a22"/>
<rect x="514.95" y="217.48" width="8.75" height="6.42" fill="#f7960f"/>
<text x="516.2" y="198.1" text-anchor="middle" style="font-family:'Liberation Sans', sans-serif;fill:#1a1a1a;stroke:#1a1a1a;stroke-width:0.06px;font-size:8.1px">Si</text>
<rect x="536.79" y="208.92" width="8.75" height="14.98" fill="#f7960f"/>
<text x="538.0" y="198.1" text-anchor="middle" style="font-family:'Liberation Sans', sans-serif;fill:#1a1a1a;stroke:#1a1a1a;stroke-width:0.06px;font-size:8.1px">Al</text>
<rect x="549.88" y="217.48" width="8.75" height="6.42" fill="#2a8a22"/>
<rect x="558.63" y="208.92" width="8.75" height="14.98" fill="#f7960f"/>
<text x="559.8" y="198.1" text-anchor="middle" style="font-family:'Liberation Sans', sans-serif;fill:#1a1a1a;stroke:#1a1a1a;stroke-width:0.06px;font-size:8.1px">Mg</text>
<rect x="580.47" y="204.64" width="8.75" height="19.26" fill="#f7960f"/>
<text x="581.7" y="198.1" text-anchor="middle" style="font-family:'Liberation Sans', sans-serif;fill:#1a1a1a;stroke:#1a1a1a;stroke-width:0.06px;font-size:8.1px">Ca</text>
<line x1="395" y1="223.9" x2="591.5" y2="223.9" stroke="#999" stroke-width="0.9"/>
<text transform="translate(377.8,278.3) rotate(-90)" text-anchor="middle" style="font-family:'Liberation Sans', sans-serif;fill:#222;stroke:#222;stroke-width:0.22px;font-size:8px">Element change (%)</text>
<rect x="496.4" y="323.2" width="2.5" height="2.5" fill="#2a8a22"/>
<rect x="496.4" y="333" width="2.5" height="2.5" fill="#f7960f"/>
<text x="502.6" y="326.6" textLength="82.2" lengthAdjust="spacingAndGlyphs" style="font-family:'Liberation Sans', sans-serif;fill:#1a1a1a;stroke:#1a1a1a;stroke-width:0.08px;font-size:7.9px">Injection experiments</text>
<text x="502.6" y="336.3" textLength="87.4" lengthAdjust="spacingAndGlyphs" style="font-family:'Liberation Sans', sans-serif;fill:#1a1a1a;stroke:#1a1a1a;stroke-width:0.08px;font-size:7.9px">Stationary experiments</text>
<text x="362.4" y="197.9" style="font-family:'Liberation Sans', sans-serif;fill:#000;font-size:14.8px">e</text>
</svg></body></html>
